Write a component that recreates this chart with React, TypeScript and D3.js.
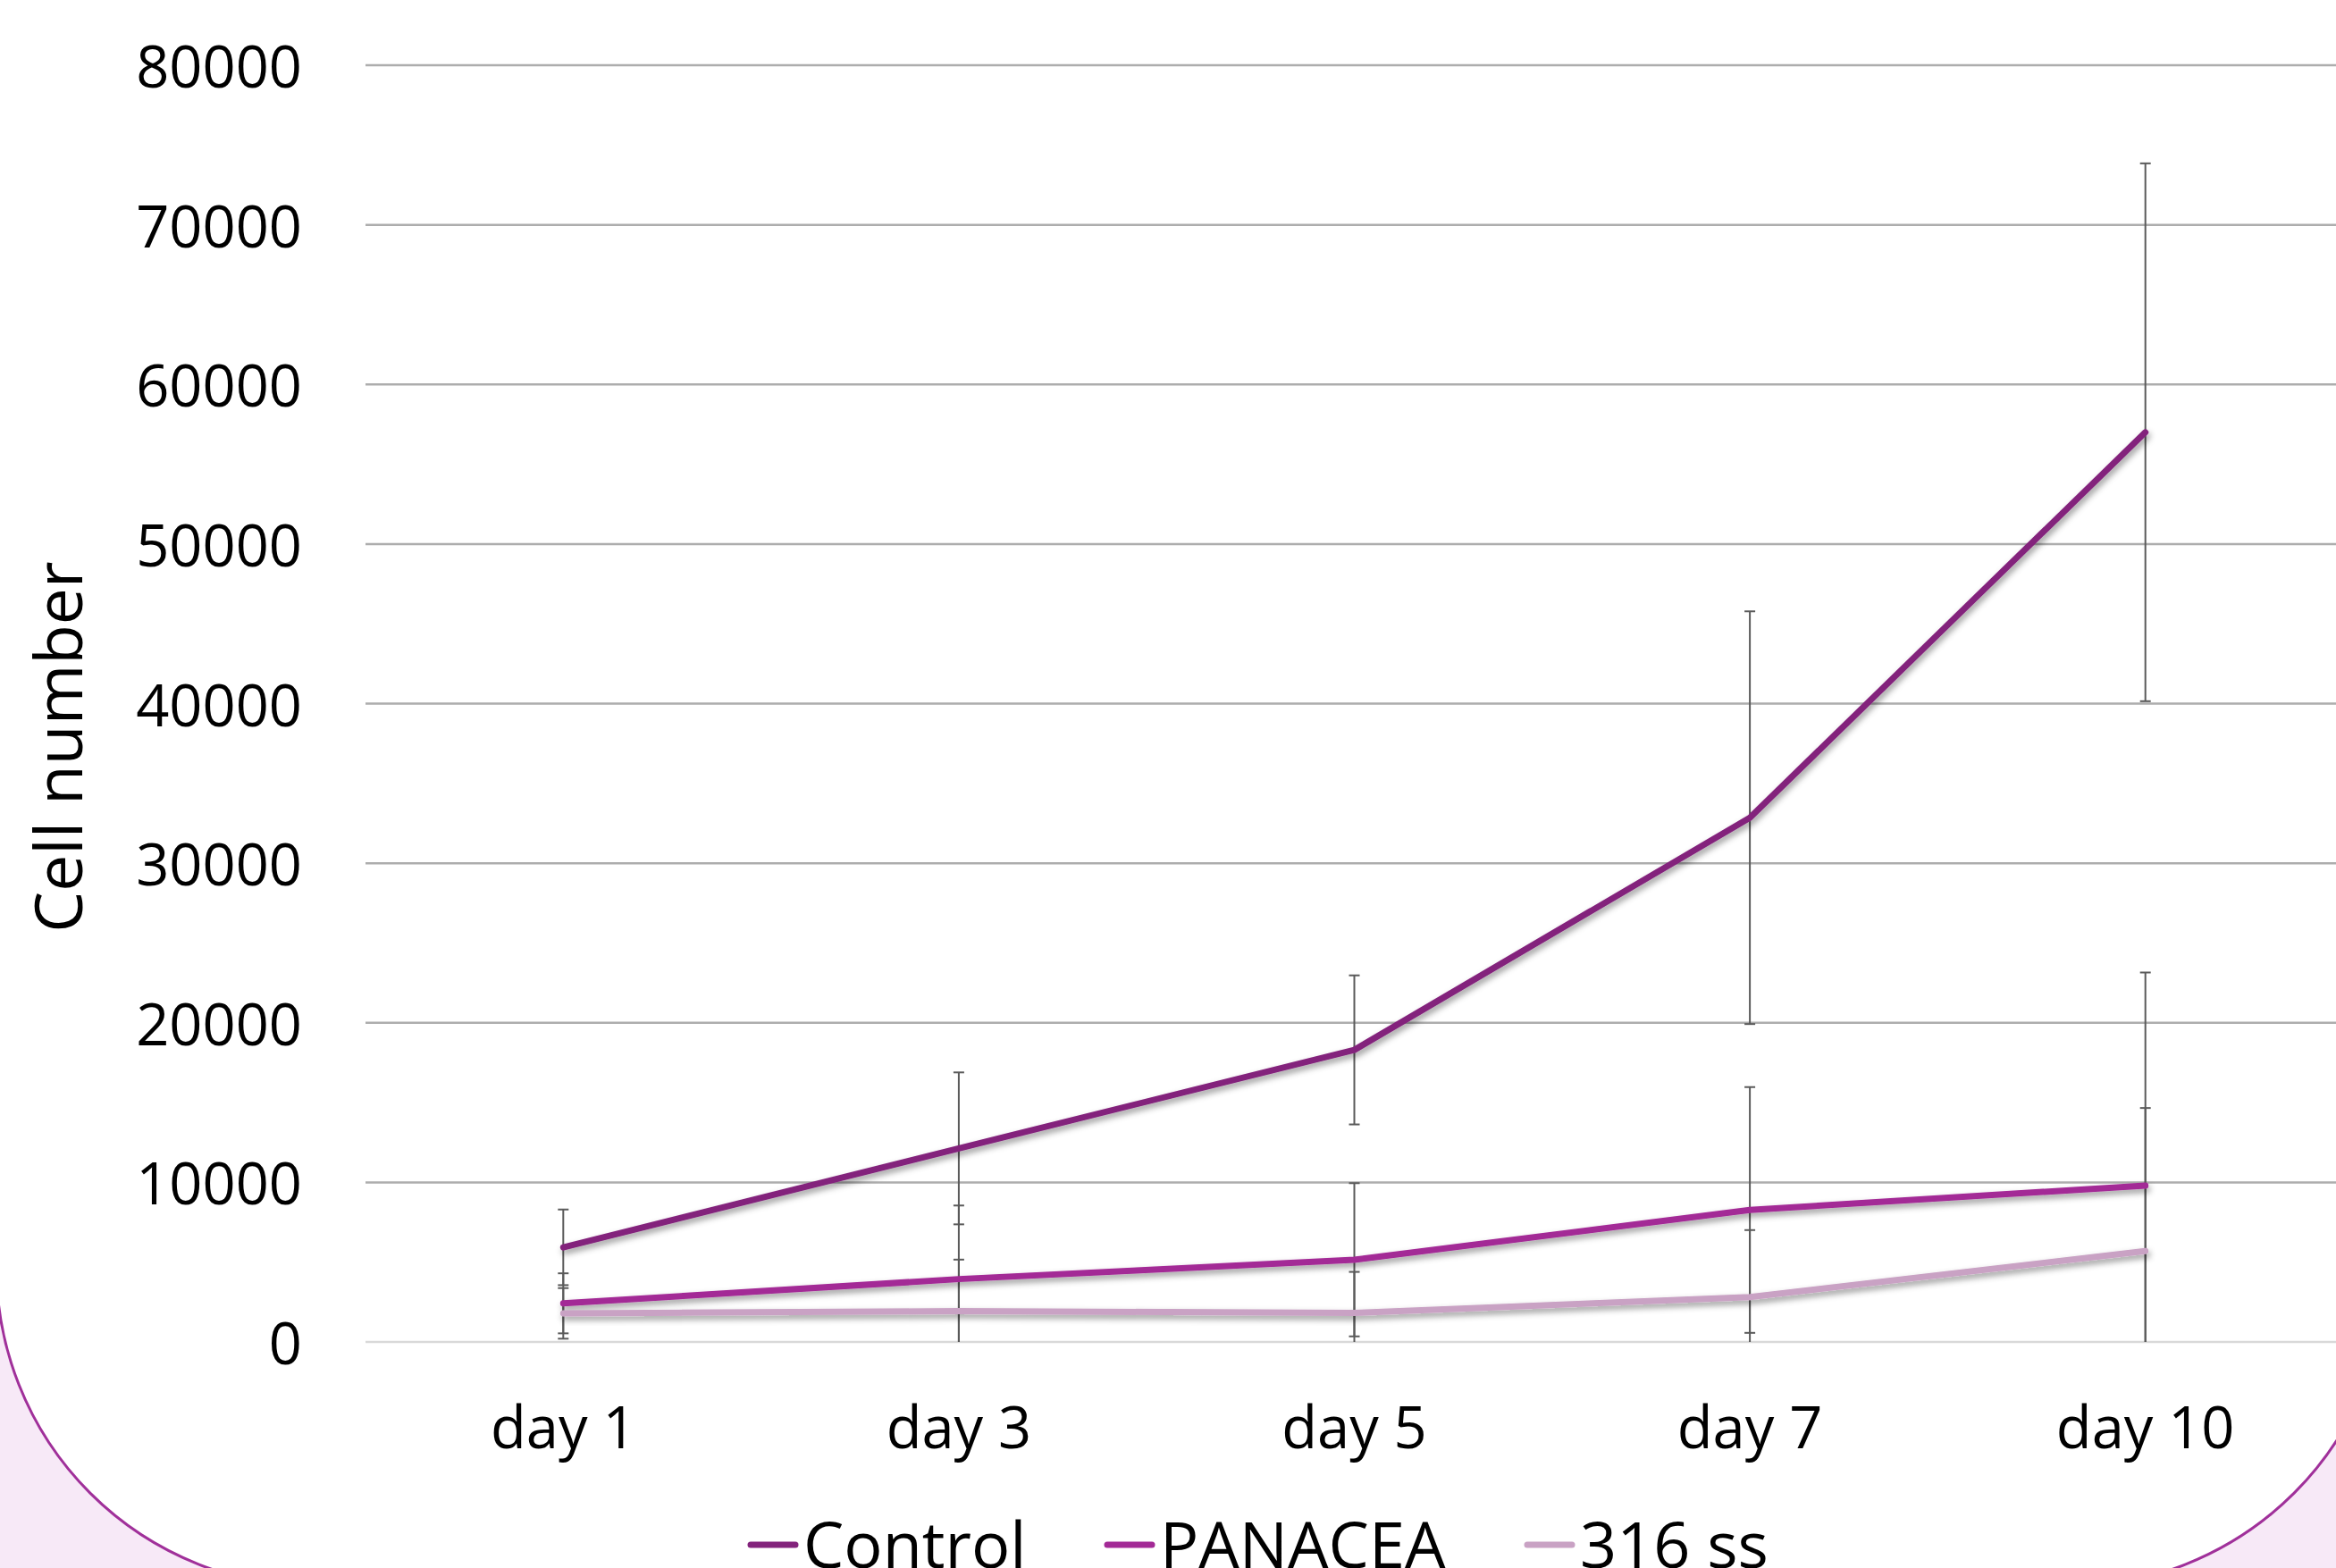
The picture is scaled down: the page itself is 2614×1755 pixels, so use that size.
import React, { useEffect } from "react";
import * as d3 from "d3";

const days = ["day 1", "day 3", "day 5", "day 7", "day 10"];
const seriesNames = ["Control", "PANACEA", "316 ss"];
const controlValues = [5930, 12130, 18300, 32850, 57000];
const controlErrors = [2370, 4760, 4670, 12930, 16850];
const panaceaValues = [2420, 3940, 5150, 8270, 9800];
const panaceaErrors = [1880, 4610, 4800, 7700, 13350];
const ss316Values = [1790, 1930, 1820, 2810, 5700];
const ss316Errors = [1585, 3230, 2570, 4200, 8960];
const yTicks = [0, 10000, 20000, 30000, 40000, 50000, 60000, 70000, 80000];
const seriesColors = ["#83237c", "#a32a96", "#c9a2c4"];

const W = 2614;
const H = 1755;
const plotLeft = 409;
const plotRight = 2622;
const plotTop = 73;
const plotBottom = 1502;
const legendX = [837, 1236, 1706];
const FONT = "'Open Sans', 'Noto Sans', sans-serif";

export default function App() {
  useEffect(() => {
    document.body.style.margin = "0";
  }, []);

  const xBand = d3.scaleBand<string>().domain(days).range([plotLeft, plotRight]);
  const xc = (d: string) => (xBand(d) as number) + xBand.bandwidth() / 2;
  const y = d3.scaleLinear().domain([0, 80000]).range([plotBottom, plotTop]);

  const series = [
    { name: seriesNames[0], values: controlValues, errors: controlErrors, color: seriesColors[0] },
    { name: seriesNames[1], values: panaceaValues, errors: panaceaErrors, color: seriesColors[1] },
    { name: seriesNames[2], values: ss316Values, errors: ss316Errors, color: seriesColors[2] },
  ];

  const line = d3
    .line<number>()
    .x((_, i) => xc(days[i]))
    .y((v) => y(v));

  const cap = 6;

  return (
    <svg
      width={W}
      height={H}
      viewBox={`0 0 ${W} ${H}`}
      style={{ position: "absolute", left: 0, top: 0, display: "block" }}
    >
      <defs>
        <filter id="shadow" x="-10%" y="-10%" width="120%" height="130%">
          <feDropShadow dx="2" dy="4" stdDeviation="3.5" floodColor="#000" floodOpacity="0.4" />
        </filter>
      </defs>
      <rect x={0} y={0} width={W} height={H} fill="#f7e9f7" />
      <rect
        x={-4}
        y={-600}
        width={2676}
        height={2376}
        rx={358}
        ry={358}
        fill="#ffffff"
        stroke="#a0309a"
        strokeWidth={3}
      />

      {/* gridlines */}
      {yTicks.map((t) => (
        <line
          key={"g" + t}
          x1={plotLeft}
          x2={plotRight}
          y1={y(t)}
          y2={y(t)}
          stroke={t === 0 ? "#d9d9d9" : "#adadad"}
          strokeWidth={2.5}
        />
      ))}

      {/* y tick labels */}
      {yTicks.map((t) => (
        <text
          key={"yt" + t}
          x={338}
          y={y(t)}
          textAnchor="end"
          dominantBaseline="central"
          fontFamily={FONT}
          fontSize={65}
          fill="#000"
        >
          {t}
        </text>
      ))}

      {/* x labels */}
      {days.map((d) => (
        <text
          key={"xl" + d}
          x={xc(d)}
          y={1621}
          textAnchor="middle"
          fontFamily={FONT}
          fontSize={65}
          fill="#000"
        >
          {d}
        </text>
      ))}

      {/* y axis title */}
      <text
        transform={`translate(92,836) rotate(-90)`}
        textAnchor="middle"
        fontFamily={FONT}
        fontSize={73}
        fill="#000"
      >
        Cell number
      </text>

      {/* error bars */}
      {series.map((s) =>
        s.values.map((v, i) => {
          const x = xc(days[i]);
          const hi = v + s.errors[i];
          const lo = v - s.errors[i];
          const yHi = y(hi);
          const yLo = lo < 0 ? y(0) : y(lo);
          return (
            <g key={s.name + "e" + i} stroke="#5a5a5a" strokeWidth={2}>
              <line x1={x} x2={x} y1={yHi} y2={yLo} />
              <line x1={x - cap} x2={x + cap} y1={yHi} y2={yHi} />
              {lo >= 0 && <line x1={x - cap} x2={x + cap} y1={yLo} y2={yLo} />}
            </g>
          );
        })
      )}

      {/* lines */}
      {series.map((s) => (
        <path
          key={"l" + s.name}
          d={line(s.values) as string}
          fill="none"
          stroke={s.color}
          strokeWidth={7}
          strokeLinejoin="round"
          strokeLinecap="round"
          filter="url(#shadow)"
        />
      ))}

      {/* legend */}
      {series.map((s, i) => (
        <g key={"lg" + s.name}>
          <line
            x1={legendX[i] + 3}
            x2={legendX[i] + 53}
            y1={1729}
            y2={1729}
            stroke={s.color}
            strokeWidth={7}
            strokeLinecap="round"
          />
          <text x={legendX[i] + 62} y={1755} fontFamily={FONT} fontSize={72} fill="#000">
            {s.name}
          </text>
        </g>
      ))}
    </svg>
  );
}
